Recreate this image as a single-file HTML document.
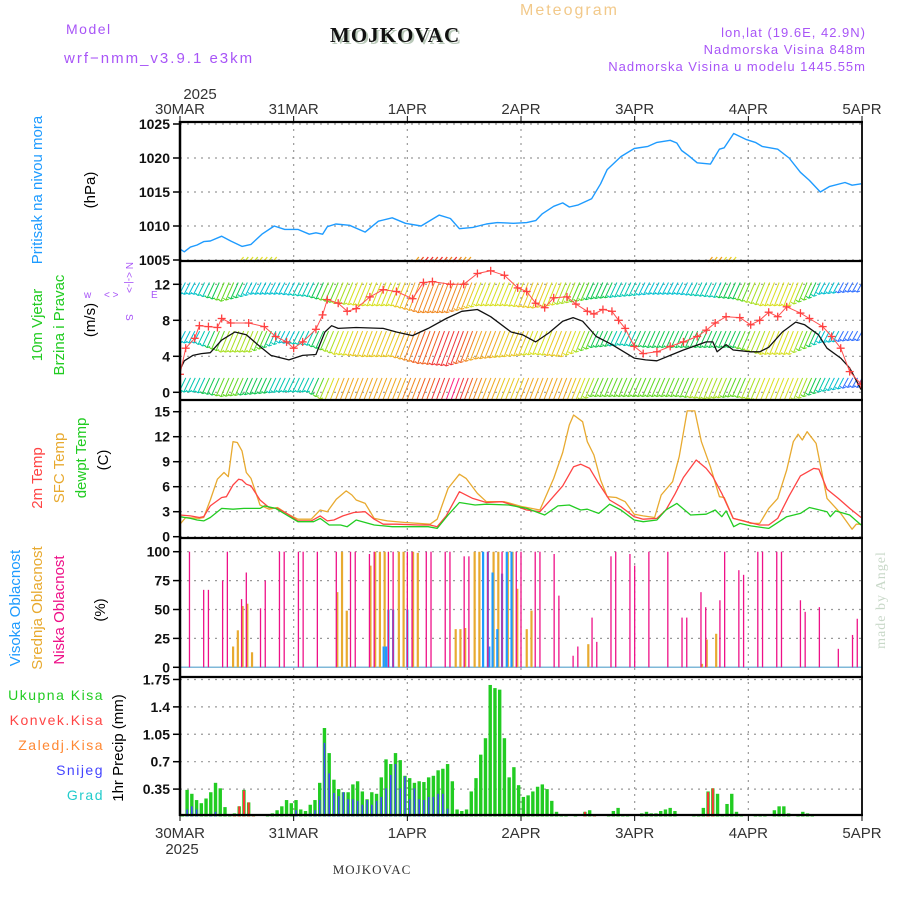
<!DOCTYPE html>
<html>
<head>
<meta charset="utf-8">
<style>
html,body{margin:0;padding:0;background:#fff;}
svg{display:block;font-family:"Liberation Sans",sans-serif;}
</style>
</head>
<body>
<svg id="chart" width="900" height="900" viewBox="0 0 900 900" xmlns="http://www.w3.org/2000/svg">
  <g id="header">
    <text x="66" y="34" font-size="14" fill="#a855f7" letter-spacing="1.5">Model</text>
    <text x="64" y="63" font-size="15" fill="#a855f7" letter-spacing="2">wrf−nmm_v3.9.1 e3km</text>
    <text x="332" y="44" font-size="21" font-weight="bold" font-family="Liberation Serif, serif" fill="#b8c8b8" letter-spacing="1">MOJKOVAC</text>
    <text x="330" y="42" font-size="21" font-weight="bold" font-family="Liberation Serif, serif" fill="#111" letter-spacing="1">MOJKOVAC</text>
    <text x="520" y="15" font-size="16" fill="#f2c98a" letter-spacing="2">Meteogram</text>
    <text x="866" y="37" font-size="13" fill="#a855f7" text-anchor="end" letter-spacing="1">lon,lat (19.6E, 42.9N)</text>
    <text x="866" y="54" font-size="13" fill="#a855f7" text-anchor="end" letter-spacing="1">Nadmorska Visina 848m</text>
    <text x="866" y="71" font-size="13" fill="#a855f7" text-anchor="end" letter-spacing="1">Nadmorska Visina u modelu 1445.55m</text>
    <text x="372" y="874" font-size="13" font-family="Liberation Serif, serif" fill="#333" text-anchor="middle" letter-spacing="1">MOJKOVAC</text>
    <text transform="translate(885,600) rotate(-90)" font-size="14" fill="#c8d8c8" text-anchor="middle" font-family="Liberation Serif, serif" letter-spacing="1">made by Angel</text>
  </g>
  <g id="leftlabels" font-size="15">
    <text transform="translate(42,190) rotate(-90)" fill="#1e9bff" text-anchor="middle">Pritisak na nivou mora</text>
    <text transform="translate(95,190) rotate(-90)" fill="#000" text-anchor="middle">(hPa)</text>
    <text transform="translate(42,325) rotate(-90)" fill="#22cc22" text-anchor="middle">10m Vjetar</text>
    <text transform="translate(64,325) rotate(-90)" fill="#22cc22" text-anchor="middle">Brzina i Pravac</text>
    <text transform="translate(95,320) rotate(-90)" fill="#000" text-anchor="middle">(m/s)</text>
    <g fill="#a855f7" font-size="10">
      <text x="84" y="298">w</text>
      <text x="104" y="298">&lt;  &gt;</text>
      <text x="151" y="298">E</text>
      <text transform="translate(126,262) rotate(90)">N</text>
      <text transform="translate(126,272) rotate(90)">&lt;-|-&gt;</text>
      <text transform="translate(126,314) rotate(90)">S</text>
    </g>
    <text transform="translate(42,478) rotate(-90)" fill="#ff4444" text-anchor="middle">2m Temp</text>
    <text transform="translate(64,468) rotate(-90)" fill="#e8aa30" text-anchor="middle">SFC Temp</text>
    <text transform="translate(86,458) rotate(-90)" fill="#22cc22" text-anchor="middle">dewpt Temp</text>
    <text transform="translate(108,460) rotate(-90)" fill="#000" text-anchor="middle">(C)</text>
    <text transform="translate(20,608) rotate(-90)" fill="#1e9bff" text-anchor="middle">Visoka Oblacnost</text>
    <text transform="translate(42,608) rotate(-90)" fill="#e8aa30" text-anchor="middle">Srednja Oblacnost</text>
    <text transform="translate(64,610) rotate(-90)" fill="#ee1188" text-anchor="middle">Niska Oblacnost</text>
    <text transform="translate(105,610) rotate(-90)" fill="#000" text-anchor="middle">(%)</text>
    <g font-size="14" text-anchor="end" letter-spacing="1.5">
      <text x="104" y="700" fill="#22cc22">Ukupna  Kisa</text>
      <text x="104" y="725" fill="#ff4444">Konvek.Kisa</text>
      <text x="104" y="750" fill="#ff8833">Zaledj.Kisa</text>
      <text x="104" y="775" fill="#4444ff">Snijeg</text>
      <text x="104" y="800" fill="#22cccc">Grad</text>
    </g>
    <text transform="translate(123,748) rotate(-90)" fill="#000" text-anchor="middle">1hr Precip (mm)</text>
  </g>
  <g id="grid"></g>
  <g id="marks"></g>
  <g id="frames"></g>
  <g id="axes"></g>
</svg>
<script>
// ---------- data ----------
const dayLabels = ["30MAR","31MAR","1APR","2APR","3APR","4APR","5APR"];
const yearLabel = "2025";

const pressureHours = [0,0.9,2.2,3.6,5.0,6.4,8.8,10.7,13.1,15.0,17.3,19.9,22.1,24.9,27.3,28.7,30.1,31.1,32.9,35.8,39.1,41.9,44.8,47.6,50.9,54.7,57.1,59.0,61.8,64.7,67.0,70.4,73.2,75.1,76.5,78.9,80.8,82.2,84.1,86.9,88.8,90.2,93.1,95.9,98.8,100.7,103.5,104.9,105.9,107.3,109.2,112.0,113.9,114.9,116.9,119.6,121.5,122.9,126.2,128.6,131.0,132.9,135.2,137.1,140.4,141.9,143.8];
const pressureValues = [1006.6,1006.2,1006.9,1007.2,1007.7,1007.8,1008.5,1007.8,1007.0,1007.3,1008.8,1010.0,1009.5,1009.5,1008.8,1009.0,1008.8,1009.9,1010.3,1010.1,1009.1,1010.7,1011.2,1010.4,1010.0,1011.6,1011.1,1009.6,1009.8,1010.3,1010.5,1010.4,1010.5,1010.8,1011.8,1012.9,1013.4,1012.8,1013.1,1014.0,1016.2,1018.3,1020.2,1021.4,1021.7,1022.3,1022.6,1022.2,1021.1,1020.4,1019.3,1019.1,1021.3,1021.5,1023.6,1022.7,1022.3,1021.7,1021.3,1020.0,1017.9,1016.7,1015.0,1015.8,1016.4,1016.0,1016.2];
const pressureTicks = [1005,1010,1015,1020,1025];

const windHours = [0,0.9,2.7,4.5,6.4,8.8,11.6,14.0,16.4,19.2,23.0,25.9,28.7,30.6,32.0,33.4,37.2,42.9,45.7,49.1,52.4,56.2,59.5,62.8,65.6,69.9,72.3,75.1,77.9,80.8,83.0,85.0,87.9,91.2,95.9,98.3,100.7,103.5,106.3,111.1,112.5,113.4,115.3,116.8,120.5,122.4,124.3,127.2,130.0,131.9,134.8,136.6,139.5,141.4,143.8];
const windSpeed = [2.5,3.5,4.1,4.3,4.4,5.8,6.7,6.4,5.3,4.1,3.6,4.1,4.2,6.7,7.4,7.1,7.2,7.1,6.7,6.3,7.1,8.2,9.0,9.2,8.4,6.7,6.4,5.6,6.6,7.9,8.3,7.9,6.2,5.3,3.8,3.6,3.5,4.1,4.7,5.6,5.6,4.5,5.3,4.7,4.5,4.5,5.0,6.7,7.8,7.5,6.4,4.9,3.8,2.7,0.3];
const gustHours = [0,1.2,3.1,4.1,6.0,7.9,8.8,10.7,14.5,17.8,20.2,22.5,24.0,25.9,28.7,30.1,31.1,33.4,35.3,37.2,40.1,42.9,45.7,49.1,51.4,53.3,57.1,59.9,62.8,65.6,68.5,71.3,73.2,75.1,77.0,78.9,81.7,83.6,86.0,87.4,89.3,91.2,92.6,94.0,95.9,97.8,100.7,103.5,106.3,109.2,111.1,113.0,115.3,118.2,120.5,122.4,124.3,126.2,128.1,131.0,132.9,135.7,137.6,139.5,141.4,143.8];
const gustSpeed = [2.0,4.9,6.0,7.4,7.3,7.2,8.2,7.7,7.7,7.3,6.2,5.6,4.9,5.6,7.0,8.6,10.3,9.9,9.0,9.3,10.6,11.4,11.2,10.4,12.2,12.3,12.0,12.0,13.2,13.5,13.0,11.6,11.2,9.9,9.4,10.5,10.6,9.8,9.0,8.7,9.2,9.0,8.0,7.1,5.1,4.3,4.5,5.1,5.6,6.2,6.9,7.7,8.4,8.3,7.5,8.0,8.9,8.4,9.5,8.8,8.2,7.3,6.2,4.9,2.3,0.9];
// wind barb bands: speed per 6-hour block at three levels
const barbHighSpeed = [3,6,3,3,4,7,8,8,11,11,8,8,9,7,5,4,3,3,4,5,8,8,3,2];
const barbMidSpeed = [3,7,7,3,4,8,9,9,12,13,10,9,8,9,5,4,5,5,5,5,8,8,3,2];
const barbLowSpeed = [4,6,5,4,4,10,10,10,12,14,10,9,10,10,6,6,6,6,7,6,8,8,4,2];
const barbLevels = [12.2,6.8,1.6];
const windTicks = [0,4,8,12];

const t2Hours = [0,2.2,4.1,5.0,6.4,8.8,9.8,11.2,12.4,13.1,14.0,15.0,16.9,18.8,20.6,22.5,24.9,27.7,29.6,31.1,32.5,34.4,36.7,39.1,41.0,42.9,45.7,50.5,52.8,54.3,56.2,59.0,61.8,64.7,68.0,70.8,73.2,76.0,77.9,80.8,83.1,84.6,86.5,88.4,90.7,93.1,95.9,97.8,100.7,102.6,104.5,106.3,109.0,111.1,112.5,114.4,116.8,119.6,122.4,124.3,126.2,128.6,131.0,133.8,134.9,136.6,139.0,141.4,143.8];
const t2Values = [2.6,2.5,2.3,2.4,3.7,4.7,4.8,6.2,6.9,6.8,6.3,6.1,4.4,3.5,3.4,2.8,1.9,1.9,2.5,1.9,2.0,2.5,2.9,3.0,2.1,1.5,1.5,1.4,1.4,1.2,2.5,5.4,4.6,4.1,4.2,3.7,3.2,3.0,4.2,6.1,8.4,8.7,8.2,6.4,4.4,3.6,2.4,2.1,2.2,3.2,5.1,7.1,9.2,8.2,7.2,5.2,2.2,1.8,1.4,1.4,2.2,4.9,7.3,8.2,8.1,5.7,4.6,3.4,2.3];
const sfcHours = [0,1.2,4.1,5.0,6.4,7.9,9.3,10.2,11.2,12.1,13.1,14.0,15.0,16.9,18.8,20.6,22.5,24.9,27.7,29.6,31.1,33.0,35.1,36.3,37.2,39.1,41.0,43.8,47.6,52.8,54.3,56.6,59.0,60.4,62.8,64.7,68.5,72.3,76.0,78.9,80.8,82.2,83.1,85.0,86.0,87.4,88.8,90.2,92.1,94.0,95.9,97.8,100.2,101.6,104.0,105.4,107.1,108.7,110.1,112.0,113.9,114.9,116.8,119.1,120.5,122.4,124.3,126.2,128.1,129.5,130.5,131.4,132.4,134.3,136.6,139.5,141.9,142.8,143.8];
const sfcValues = [1.5,2.3,2.2,2.3,4.4,6.9,7.7,7.2,11.4,11.3,10.3,7.7,7.0,3.8,3.3,3.5,2.8,2.1,2.1,3.2,3.0,4.5,5.5,5.0,4.4,4.0,2.2,1.9,1.7,1.5,2.1,5.8,7.5,7.0,5.2,4.2,4.2,3.6,3.2,7.0,10.1,13.4,14.6,13.8,11.4,9.8,6.8,4.8,4.7,4.2,2.7,2.5,2.3,5.0,6.6,9.6,15.1,15.1,11.4,8.4,4.8,4.7,2.2,1.9,1.6,1.6,3.4,4.6,8.0,11.4,12.3,11.6,12.6,11.2,4.6,2.8,0.9,1.5,1.5];
const dewHours = [0,2.2,3.6,5.0,6.4,8.8,11.2,13.5,16.9,17.8,20.2,22.5,24.9,28.2,29.6,31.5,33.9,35.3,37.2,41.0,44.8,52.4,54.3,56.6,59.0,62.3,64.7,69.4,73.2,77.0,79.8,82.2,84.6,86.0,88.4,90.7,93.1,95.9,97.8,100.7,102.6,104.9,107.8,111.1,113.0,114.4,115.3,116.9,118.2,120.5,124.3,128.1,131.0,132.9,136.6,137.3,138.4,141.4,143.8];
const dewValues = [2.4,2.2,2.0,1.9,2.3,3.4,3.3,3.4,3.4,3.7,3.4,2.6,1.8,1.8,2.2,1.4,1.4,1.2,2.0,1.4,1.2,1.2,1.0,2.6,4.1,3.8,3.9,3.8,3.4,2.6,3.7,3.8,3.2,3.3,2.8,3.9,3.2,2.0,1.8,2.0,3.2,4.0,2.6,2.7,3.2,2.4,3.1,1.2,1.6,1.3,1.0,2.4,2.8,3.5,3.0,2.4,3.1,2.6,1.4];
const tempTicks = [0,3,6,9,12,15];

const lowCloudHours = [2,5,6,9,10,13,14,17,18,21,22,25,26,29,33,36,37,40,41,44,45,48,49,52,53,56,57,60,61,65,68,71,72,75,76,79,80,83,84,87,88,91,92,95,96,99,103,106,107,110,111,114,115,118,119,122,123,126,127,131,132,135,139,142,143];
const lowCloudValues = [100,67,67,75,100,59,82,51,75,100,100,100,100,100,100,100,100,98,100,100,100,100,100,100,100,100,100,96,96,100,100,100,100,100,100,98,62,10,18,43,22,96,100,98,88,100,100,43,43,65,52,58,100,84,80,100,100,100,100,58,48,52,16,28,42];
const midCloudHours = [11,12,13,14,15,33,34,35,40,41,42,43,46,47,49,50,58,59,60,62,63,66,67,69,70,71,73,74,86,110,111,113];
const midCloudValues = [18,32,53,55,13,65,100,49,88,100,100,100,100,100,100,99,33,33,34,100,100,100,100,100,100,68,33,49,20,3,24,29];
const highCloudHours = [43,43.5,44,45,48,64,65,65.3,66,67,68,69,70];
const highCloudValues = [18,18,50,50,50,100,100,18,82,33,81,100,100];
const cloudTicks = [0,25,50,75,100];

const precipTotal = [0.01,0.34,0.29,0.21,0.17,0.23,0.31,0.43,0.36,0.12,0.02,0.04,0.13,0.34,0.18,0.02,0,0,0.01,0.04,0.08,0.13,0.21,0.17,0.21,0.09,0.07,0.15,0.21,0.43,1.13,0.81,0.47,0.35,0.31,0.31,0.41,0.45,0.32,0.22,0.31,0.29,0.50,0.73,0.67,0.81,0.72,0.52,0.49,0.43,0.45,0.44,0.50,0.52,0.59,0.61,0.67,0.45,0.09,0.07,0.09,0.32,0.49,0.79,1.00,1.68,1.64,1.62,1.00,0.50,0.63,0.40,0.25,0.27,0.32,0.38,0.41,0.35,0.20,0.06,0.02,0.02,0,0.01,0,0.06,0.08,0.03,0,0,0.02,0.07,0.11,0.02,0.02,0,0,0.04,0.06,0.04,0.04,0.07,0.09,0.11,0.07,0,0,0,0.01,0.02,0.11,0.32,0.36,0.29,0.01,0.16,0.29,0.06,0.02,0,0,0.02,0.03,0.02,0,0.08,0.13,0.13,0.04,0,0.02,0.06,0.04,0.02,0,0,0,0,0,0,0,0,0,0];
const precipConvHours = [11,12,13,14,15,85,87,111,112];
const precipConvValues = [0.03,0.13,0.33,0.18,0.01,0.06,0.03,0.31,0.36];
const precipSnowHours = [1,2,3,6,7,24,27,28,29,30,31,32,33,34,35,36,37,38,39,40,41,42,43,44,45,46,47,48,49,50,51,52,53,54,55,56];
const precipSnowValues = [0.09,0.13,0.09,0.03,0.06,0.08,0.04,0.08,0.21,0.94,0.55,0.30,0.26,0.31,0.22,0.22,0.20,0.15,0.21,0.15,0.20,0.25,0.36,0.53,0.67,0.36,0.51,0.22,0.36,0.22,0.21,0.25,0.25,0.29,0.29,0.10];
const precipTicks = ["0.35","0.7","1.05","1.4","1.75"];

// ---------- scales ----------
const NS = "http://www.w3.org/2000/svg";
const X0 = 180, X1 = 862, HOURS = 144;
function X(h){ return X0 + h * (X1 - X0) / HOURS; }
function YP(p){ return 124 + (1025 - p) * 6.8; }
function YW(w){ return 392.3 - w * 9.0; }
function YT(t){ return 536.7 - t * 8.333; }
function YC(c){ return 667.3 - c * 1.156; }
function YR(r){ return 816.5 - r * 78.3; }
const panels = [[122,261],[261,400],[400,538],[538,677],[677,815]];

function el(tag, attrs, parent){
  const e = document.createElementNS(NS, tag);
  for (const k in attrs) e.setAttribute(k, attrs[k]);
  parent.appendChild(e);
  return e;
}
const gGrid = document.getElementById('grid');
const gMarks = document.getElementById('marks');
const gFrames = document.getElementById('frames');
const gAxes = document.getElementById('axes');

const defs = el('defs', {}, document.getElementById('chart'));
panels.forEach((p, i) => {
  const cp = el('clipPath', {id: 'clip' + i}, defs);
  el('rect', {x: X0, y: p[0], width: X1 - X0, height: p[1] - p[0]}, cp);
});

// ---------- grid ----------
for (let d = 1; d < 6; d++) {
  const x = X(d * 24);
  const gl = el('line', {x1: x, x2: x, y1: 122, y2: 815, stroke: '#999', 'stroke-width': 1.2, 'stroke-dasharray': '2,5'}, gGrid);
  
  
}
function hgrid(y){
  const gl = el('line', {x1: X0, x2: X1, y1: y, y2: y, stroke: '#999', 'stroke-width': 1.2, 'stroke-dasharray': '2,5'}, gGrid);
  
  
}
pressureTicks.forEach(v => hgrid(YP(v)));
windTicks.forEach(v => hgrid(YW(v)));
tempTicks.forEach(v => hgrid(YT(v)));
cloudTicks.forEach(v => hgrid(YC(v)));
precipTicks.forEach(v => hgrid(YR(parseFloat(v))));

function tickLabel(y, txt, name){
  const t = el('text', {x: 170, y: y + 5, 'font-size': 14, 'text-anchor': 'end', fill: '#111', 'font-weight': 'bold'}, gAxes);
  t.textContent = txt;
  
  
  el('line', {x1: 173, x2: 180, y1: y, y2: y, stroke: '#000', 'stroke-width': 1.5}, gAxes);
}
pressureTicks.forEach(v => tickLabel(YP(v), String(v), 'pressure-tick-label'));
windTicks.forEach(v => tickLabel(YW(v), String(v), 'wind-tick-label'));
tempTicks.forEach(v => tickLabel(YT(v), String(v), 'temp-tick-label'));
cloudTicks.forEach(v => tickLabel(YC(v), String(v), 'cloud-tick-label'));
precipTicks.forEach(v => tickLabel(YR(parseFloat(v)), v, 'precip-tick-label'));

dayLabels.forEach((lab, i) => {
  const x = X(i * 24);
  const t1 = el('text', {x: x, y: 114, 'font-size': 15, 'text-anchor': 'middle', fill: '#333'}, gAxes);
  t1.textContent = lab;
  
  
  const t2 = el('text', {x: x, y: 838, 'font-size': 15, 'text-anchor': 'middle', fill: '#333'}, gAxes);
  t2.textContent = lab;
  
  
  el('line', {x1: x, x2: x, y1: 116, y2: 123, stroke: '#000', 'stroke-width': 1}, gAxes);
  el('line', {x1: x, x2: x, y1: 814, y2: 821, stroke: '#000', 'stroke-width': 1}, gAxes);
});
const yt = el('text', {x: 200, y: 99, 'font-size': 15, 'text-anchor': 'middle', fill: '#333'}, gAxes);
yt.textContent = yearLabel;


const yb = el('text', {x: 182, y: 854, 'font-size': 15, 'text-anchor': 'middle', fill: '#333'}, gAxes);
yb.textContent = yearLabel;



// ---------- series ----------
function polyline(hours, vals, yf, color, width, clip, name){
  const pts = hours.map((h, i) => X(h).toFixed(1) + ',' + yf(vals[i]).toFixed(1)).join(' ');
  const p = el('polyline', {points: pts, fill: 'none', stroke: color, 'stroke-width': width, 'stroke-linejoin': 'round', 'clip-path': 'url(#clip' + clip + ')'}, gMarks);
  
  
  return p;
}

polyline(pressureHours, pressureValues, YP, '#1e9bff', 1.4, 0, 'pressure-line');
const topBarbHours = [13,14,15,16,17,18,19,20,50,51,52,53,54,55,56,57,58,59,60,61,112,113,114,115,116,117];
const topBarbColors = ['#e8e030','#c8e030','#e8e030','#c8e030','#e8e030','#e8e030','#c8e030','#e8e030','#f0a020','#f05020','#f03030','#f03030','#f05020','#f03030','#f05020','#f08020','#f03030','#f08020','#f0a020','#f0a020','#f0a020','#f0c020','#f0a020','#e8e030','#f0c020','#e8e030'];
topBarbHours.forEach((h, i) => {
  const b = el('line', {x1: X(h) + 2, y1: 257, x2: X(h) - 2, y2: 262, stroke: topBarbColors[i], 'stroke-width': 1.3}, gMarks);
  
  
});

function barbColor(s){
  const pal = ['#3050ff','#3050ff','#3070ff','#00c0d0','#00c8b0','#10c850','#60d820','#a8e020','#d8e020','#e8c820','#f0a820','#f08820','#f06020','#f03838','#ff2080','#ff2080'];
  return pal[Math.max(0, Math.min(15, Math.round(s)))];
}
const barbSets = [barbHighSpeed, barbMidSpeed, barbLowSpeed];
barbSets.forEach((arr, li) => {
  const top = YW(barbLevels[li]);
  for (let h = 0; h < HOURS; h++) {
    const f = h / 6 - 0.5;
    const i0 = Math.max(0, Math.min(arr.length - 1, Math.floor(f)));
    const i1 = Math.min(arr.length - 1, i0 + 1);
    const t = Math.max(0, Math.min(1, f - i0));
    const s = arr[i0] * (1 - t) + arr[i1] * t;
    const bot = top + 5 + 2.3 * s;
    const x = X(h + 0.5);
    const dx = 2 + s * 0.35;
    const c = barbColor(s);
    const g = el('g', {stroke: c, 'stroke-width': 1.0, 'clip-path': 'url(#clip1)'}, gMarks);
    
    
    el('line', {x1: x + dx, y1: top, x2: x - dx, y2: bot}, g);
    el('line', {x1: x - dx, y1: bot, x2: x - dx - 2.5, y2: bot - 2}, g);
    el('line', {x1: x - dx, y1: bot, x2: x - dx + 3, y2: bot - 1}, g);
  }
});
polyline(windHours, windSpeed, YW, '#111', 1.3, 1, 'wind-speed-line');
polyline(gustHours, gustSpeed, YW, '#ff5050', 1.0, 1, 'wind-gust-line');
gustHours.forEach((h, i) => {
  const x = X(h), y = YW(gustSpeed[i]);
  const g = el('g', {stroke: '#ff4040', 'stroke-width': 1.3, 'clip-path': 'url(#clip1)'}, gMarks);
  
  
  el('line', {x1: x - 4, x2: x + 4, y1: y, y2: y}, g);
  el('line', {x1: x, x2: x, y1: y - 4, y2: y + 4}, g);
});

polyline(sfcHours, sfcValues, YT, '#e8aa30', 1.3, 2, 'sfc-temp-line');
polyline(t2Hours, t2Values, YT, '#ff4444', 1.3, 2, 'temp-2m-line');
polyline(dewHours, dewValues, YT, '#22cc22', 1.3, 2, 'dewpoint-line');

const cb = el('line', {x1: X0, x2: X1, y1: YC(0), y2: YC(0), stroke: '#7fb8d8', 'stroke-width': 1.5}, gMarks);


function cloudBars(hours, vals, color, width, name){
  hours.forEach((h, i) => {
    const x = X(h) + (name === 'mid-cloud-bar' ? 1 : 0);
    const b = el('line', {x1: x, x2: x, y1: YC(0), y2: YC(vals[i]), stroke: color, 'stroke-width': width}, gMarks);
    
    
  });
}
cloudBars(midCloudHours, midCloudValues, '#e8aa30', 2.2, 'mid-cloud-bar');
cloudBars(highCloudHours, highCloudValues, '#1e9bff', 2.2, 'high-cloud-bar');
cloudBars(lowCloudHours, lowCloudValues, '#ee1188', 1.3, 'low-cloud-bar');

precipTotal.forEach((v, h) => {
  if (v <= 0) return;
  const x = X(h + 0.5);
  const r = el('rect', {x: x - 1.7, y: YR(v), width: 3.4, height: YR(0) - YR(v), fill: '#22cc22'}, gMarks);
  
  
});
precipConvHours.forEach((h, i) => {
  const v = precipConvValues[i], x = X(h + 0.5);
  const r = el('rect', {x: x - 1.0, y: YR(v), width: 2.0, height: YR(0) - YR(v), fill: '#ff3333'}, gMarks);
  
  
});
precipSnowHours.forEach((h, i) => {
  const v = precipSnowValues[i], x = X(h + 0.5);
  const r = el('rect', {x: x - 0.8, y: YR(v), width: 1.6, height: YR(0) - YR(v), fill: '#4444ff'}, gMarks);
  
  
});

// ---------- frames ----------
[122,261,400,538,677,815].forEach(y => {
  const l = el('line', {x1: X0 - 1, x2: X1 + 1, y1: y, y2: y, stroke: '#000', 'stroke-width': 2.2}, gFrames);
  
  
});
const lb = el('line', {x1: X0, x2: X0, y1: 121, y2: 816, stroke: '#000', 'stroke-width': 2.5}, gFrames);


const rb = el('line', {x1: X1, x2: X1, y1: 121, y2: 816, stroke: '#000', 'stroke-width': 1.8}, gFrames);


</script>
</body>
</html>
